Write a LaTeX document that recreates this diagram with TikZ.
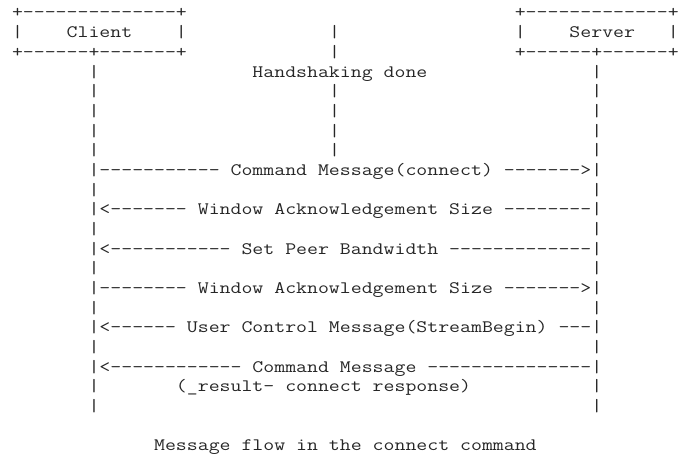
\documentclass[tikz,border=0pt]{standalone}
\usepackage{fontspec}
\usepackage{graphicx}
\frenchspacing
\newcommand\asciifont{\ttfamily\fontsize{17.5}{20}\selectfont}
\newlength\cellw
\settowidth\cellw{\asciifont M}
\pgfmathsetmacro\cellsx{10.93/\cellw}
\tikzset{
  ascii/.style={anchor=base west, inner sep=0pt, outer sep=0pt, text=black!85, font=\asciifont}
}
% \asc{name}{column}{row}{text}
\newcommand\asc[4]{\node[ascii] (#1) at ({94+(#2)*10.93-5.465},{18+(#3)*19.68}) {\scalebox{\cellsx}[1]{#4}};}
\begin{document}
\begin{tikzpicture}[x=1pt,y=-1pt]
\useasboundingbox (0,0) rectangle (687,462);
% boxes
\asc{ctop}{-7}{0}{+--------------+}
\asc{stop}{39}{0}{+-------------+}
\asc{client}{-7}{1}{|~~~~Client~~~~|}
\asc{midA}{22}{1}{|}
\asc{server}{39}{1}{|~~~~Server~~~|}
\asc{cbot}{-7}{2}{+------+-------+}
\asc{midB}{22}{2}{|}
\asc{sbot}{39}{2}{+------+------+}
% handshaking
\asc{l3}{0}{3}{|}
\asc{hs}{15}{3}{Handshaking~done}
\asc{r3}{46}{3}{|}
\foreach \r in {4,5,6,7}{
  \asc{l\r}{0}{\r}{|}
  \asc{m\r}{22}{\r}{|}
  \asc{r\r}{46}{\r}{|}
}
% messages
\asc{msg8}{0}{8}{|-----------~Command~Message(connect)~------->|}
\asc{msg10}{0}{10}{|<-------~Window~Acknowledgement~Size~--------|}
\asc{msg12}{0}{12}{|<-----------~Set~Peer~Bandwidth~-------------|}
\asc{msg14}{0}{14}{|--------~Window~Acknowledgement~Size~------->|}
\asc{msg16}{0}{16}{|<------~User~Control~Message(StreamBegin)~---|}
\asc{msg18}{0}{18}{|<------------~Command~Message~---------------|}
\foreach \r in {9,11,13,15,17,19,20}{
  \asc{l\r}{0}{\r}{|}
  \asc{r\r}{46}{\r}{|}
}
\asc{resp}{8}{19}{(\_result-~connect~response)}
% caption
\asc{caption}{6}{22}{Message~flow~in~the~connect~command}
\end{tikzpicture}
\end{document}
